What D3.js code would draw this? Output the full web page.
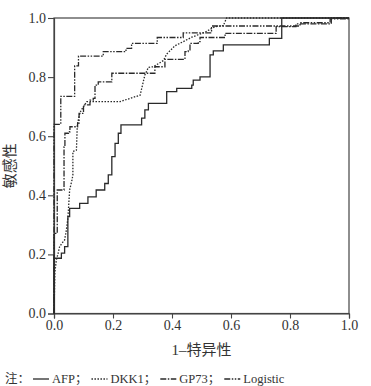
<!DOCTYPE html>
<html>
<head>
<meta charset="utf-8">
<script src="https://cdn.jsdelivr.net/npm/d3@7"></script>
<style>
body { margin: 0; background: #fff; }
text { font-family: "Liberation Serif", "Noto Sans CJK SC", serif; fill: #333; }
</style>
</head>
<body>
<div id="roc-fig"></div>
<script>
const fig_width = 371
const fig_height = 386
const margin = {top: 18, right: 22, bottom: 72.5, left: 54}

// axis ticks
const tick_values = [0, 0.2, 0.4, 0.6, 0.8, 1.0]

// ROC curves, [1-specificity, sensitivity]; the step curves give the point where each rise happens
const afp = [[0,0],[0,0.187],[0.025,0.204],[0.036,0.226],[0.047,0.328],[0.053,0.356],[0.087,0.373],
    [0.115,0.395],[0.143,0.418],[0.172,0.44],[0.184,0.469],[0.196,0.531],[0.207,0.576],[0.218,0.61],
    [0.227,0.638],[0.297,0.661],[0.308,0.689],[0.32,0.711],[0.382,0.751],[0.416,0.762],[0.467,0.773],
    [0.472,0.79],[0.495,0.801],[0.529,0.875],[0.54,0.889],[0.574,0.909],[0.73,0.931],[0.772,1],[1,1]]

// DKK1 has slanted (tied) parts, so its points are drawn as plain vertices
const dkk1 = [[0,0],[0.003,0.14],[0.008,0.181],[0.014,0.204],[0.019,0.226],[0.027,0.238],[0.036,0.249],
    [0.042,0.283],[0.047,0.322],[0.053,0.418],[0.061,0.452],[0.064,0.469],[0.064,0.548],[0.076,0.553],
    [0.079,0.638],[0.087,0.677],[0.093,0.689],[0.111,0.717],[0.224,0.717],[0.292,0.739],[0.308,0.807],
    [0.32,0.833],[0.337,0.835],[0.371,0.856],[0.382,0.878],[0.41,0.906],[0.444,0.923],[0.467,0.935],
    [0.512,0.952],[0.546,0.971],[0.574,0.974],[0.585,1],[1,1]]

const gp73 = [[0,0],[0,0.271],[0.011,0.418],[0.034,0.564],[0.037,0.61],[0.049,0.615],[0.054,0.632],
    [0.08,0.644],[0.085,0.677],[0.1,0.706],[0.122,0.722],[0.133,0.728],[0.139,0.773],[0.15,0.784],
    [0.196,0.813],[0.342,0.835],[0.376,0.86],[0.444,0.886],[0.455,0.892],[0.461,0.914],[0.489,0.92],
    [0.495,0.934],[0.58,0.948],[0.753,0.971],[0.82,0.98],[0.94,1],[1,1]]

const logistic = [[0,0],[0,0.64],[0.023,0.735],[0.07,0.838],[0.083,0.871],[0.167,0.886],[0.244,0.897],
    [0.263,0.914],[0.35,0.934],[0.438,0.95],[0.534,0.973],[0.834,0.984],[0.936,0.997],[1,1]]

const series = [
    {name: 'AFP', values: afp, dash: null, curve: d3.curveStepAfter},
    {name: 'DKK1', values: dkk1, dash: '1.5,1.5', curve: d3.curveLinear},
    {name: 'GP73', values: gp73, dash: '6,1.5,1.5,1.5', curve: d3.curveStepAfter},
    {name: 'Logistic', values: logistic, dash: '6,1.5,1.5,1.5,1.5,1.5', curve: d3.curveStepAfter}
]

const plot_w = fig_width - margin.left - margin.right
const plot_h = fig_height - margin.top - margin.bottom

let x = d3.scaleLinear().domain([0, 1]).range([0, plot_w])
let y = d3.scaleLinear().domain([0, 1]).range([plot_h, 0])

let svg = d3.select('#roc-fig')
    .append('svg')
    .attr('width', fig_width)
    .attr('height', fig_height)

let g = svg.append('g').attr('transform', `translate(${margin.left},${margin.top})`)

// frame
g.append('rect')
    .attr('width', plot_w)
    .attr('height', plot_h)
    .attr('fill', 'none')
    .attr('stroke', '#444')
    .attr('stroke-width', 1.2)

let xAxis = g.append('g')
    .attr('transform', `translate(0,${plot_h})`)
    .call(d3.axisBottom(x).tickValues(tick_values).tickFormat(d3.format('.1f')).tickSize(5).tickPadding(2))
let yAxis = g.append('g')
    .call(d3.axisLeft(y).tickValues(tick_values).tickFormat(d3.format('.1f')).tickSize(6).tickPadding(2))

for (let ax of [xAxis, yAxis]) {
    ax.select('.domain').attr('stroke', '#444').attr('stroke-width', 1.2)
    ax.selectAll('.tick line').attr('stroke', '#444').attr('stroke-width', 1.1)
    ax.selectAll('.tick text')
        .style('font-family', '"Liberation Serif", serif')
        .style('font-size', '14px')
        .attr('fill', '#333')
}

// curves
for (let s of series) {
    let line = d3.line()
        .x(d => x(d[0]))
        .y(d => y(d[1]))
        .curve(s.curve)
    g.append('path')
        .datum(s.values)
        .attr('d', line)
        .attr('fill', 'none')
        .attr('stroke', '#2a2a2a')
        .attr('stroke-width', 1.3)
        .attr('stroke-dasharray', s.dash)
}

// axis titles
svg.append('text')
    .attr('x', margin.left + plot_w / 2)
    .attr('y', 355)
    .attr('text-anchor', 'middle')
    .style('font-size', '15px')
    .text('1–特异性')

svg.append('text')
    .attr('transform', `translate(15,${margin.top + plot_h / 2}) rotate(-90)`)
    .attr('text-anchor', 'middle')
    .style('font-size', '15px')
    .text('敏感性')

// legend, laid out left to right
let legend = svg.append('g').attr('transform', 'translate(5,379)')
let lx = 0
let note = legend.append('text').attr('x', lx).attr('y', 4).style('font-size', '12.5px').text('注：')
lx += note.node().getComputedTextLength() + 3
series.forEach((s, i) => {
    legend.append('line')
        .attr('x1', lx).attr('x2', lx + 16)
        .attr('y1', 0).attr('y2', 0)
        .attr('stroke', '#2a2a2a')
        .attr('stroke-width', 1.3)
        .attr('stroke-dasharray', s.dash)
    lx += 19
    let t = legend.append('text')
        .attr('x', lx).attr('y', 4)
        .style('font-size', '12.5px')
        .text(s.name + (i < series.length - 1 ? '；' : ''))
    lx += t.node().getComputedTextLength() + 4
})
</script>
</body>
</html>
